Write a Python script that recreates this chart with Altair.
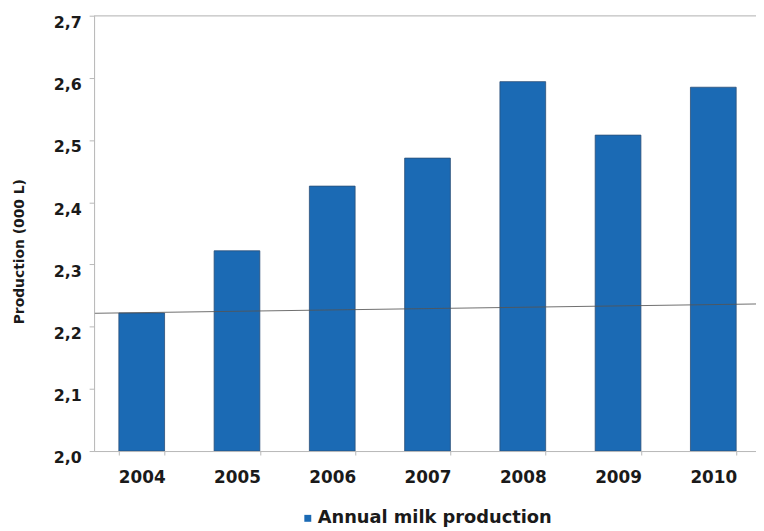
import altair as alt
import pandas as pd

years = ["2004", "2005", "2006", "2007", "2008", "2009", "2010"]
production = [2.222, 2.322, 2.426, 2.471, 2.594, 2.508, 2.585]
series_name = "Annual milk production"
trend_start = 2.2215
trend_end = 2.2366
y_ticks = [2.0, 2.1, 2.2, 2.3, 2.4, 2.5, 2.6, 2.7]

FONT = "DejaVu Sans"
BLUE = "#1b6ab4"

df = pd.DataFrame({"year": years, "value": production,
                   "base": [y_ticks[0]] * len(years),
                   "series": [series_name] * len(years)})
trend_df = pd.DataFrame({"y": [trend_start], "y2": [trend_end]})
top_df = pd.DataFrame({"y": [y_ticks[-1]]})

PLOT_W = 669
PLOT_H = 440
BAND_RANGE = 674

y_scale = alt.Scale(domain=[y_ticks[0], y_ticks[-1]], nice=False, zero=False)

bars = alt.Chart(df).mark_bar(stroke="#2b4f77", strokeWidth=0.8).encode(
    x=alt.X("year:N", sort=years,
            scale=alt.Scale(range=[0, BAND_RANGE], paddingInner=0.52, paddingOuter=0.26),
            axis=alt.Axis(title=None, labelAngle=0, labelFont=FONT, labelFontWeight="bold",
                          labelFontSize=17, labelColor="#1a1a1a", labelPadding=15,
                          labelBaseline="top",
                          tickBand="extent", tickSize=4, tickColor="#b8b8b8",
                          domainColor="#b8b8b8", zindex=1)),
    y=alt.Y("value:Q", scale=y_scale,
            axis=alt.Axis(title="Production (000 L)", values=y_ticks,
                          labelExpr="replace(format(datum.value, '.1f'), '.', ',')",
                          labelFont=FONT, labelFontWeight="bold", labelFontSize=16,
                          labelColor="#1a1a1a", labelPadding=8, tickSize=5,
                          labelBaseline="top", labelOffset=-1,
                          tickColor="#b8b8b8", domainColor="#b8b8b8", grid=False,
                          titleFont=FONT, titleFontWeight="bold", titleFontSize=14,
                          titleColor="#1a1a1a", titleX=-68, titleY=238, zindex=1)),
    y2=alt.Y2("base:Q"),
    color=alt.Color("series:N", scale=alt.Scale(domain=[series_name], range=[BLUE]),
                    legend=alt.Legend(title=None, orient="none", legendX=207, legendY=499,
                                      direction="horizontal",
                                      symbolType="square", symbolSize=49, symbolStrokeWidth=0,
                                      labelFont=FONT, labelFontWeight="bold", labelFontSize=18,
                                      labelColor="#1a1a1a", labelOffset=1, labelLimit=400)),
)

top_line = alt.Chart(top_df).mark_rule(color="#c4c4c4", strokeWidth=1).encode(
    y=alt.Y("y:Q", scale=y_scale)
)

trend = alt.Chart(trend_df).mark_rule(color="#555555", strokeWidth=1, opacity=0.85).encode(
    x=alt.value(0), x2=alt.value(BAND_RANGE),
    y=alt.Y("y:Q", scale=y_scale), y2="y2:Q"
)

chart = alt.layer(top_line, bars, trend).properties(
    width=PLOT_W, height=PLOT_H,
    autosize=alt.AutoSizeParams(type="none"),
    padding={"left": 87, "top": 5, "right": 0, "bottom": 76},
).configure_view(stroke=None).configure(background="white")

chart.save("out.html", embed_options={"renderer": "svg", "actions": False})
